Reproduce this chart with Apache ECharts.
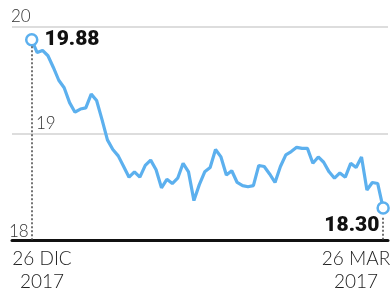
<!DOCTYPE html>
<html>
<head>
<meta charset="utf-8">
<script src="https://cdn.jsdelivr.net/npm/echarts@6/dist/echarts.min.js"></script>
<style>
  html, body { margin: 0; padding: 0; background: #fff; }
  #chart { width: 390px; height: 290px; }
</style>
</head>
<body>
<div id="chart"></div>
<script>
// daily values, 26 Dic -> 26 Mar
const values = [
  19.88, 19.76, 19.78, 19.73, 19.62, 19.50, 19.43, 19.29, 19.20, 19.23,
  19.24, 19.37, 19.31, 19.13, 18.94, 18.85, 18.79, 18.69, 18.59, 18.64,
  18.59, 18.70, 18.75, 18.66, 18.49, 18.57, 18.53, 18.58, 18.72, 18.64,
  18.37, 18.52, 18.64, 18.68, 18.85, 18.78, 18.61, 18.65, 18.54, 18.51,
  18.50, 18.51, 18.70, 18.69, 18.62, 18.54, 18.69, 18.80, 18.83, 18.87,
  18.86, 18.86, 18.72, 18.78, 18.73, 18.64, 18.58, 18.63, 18.59, 18.72,
  18.68, 18.78, 18.47, 18.54, 18.53, 18.30
];
const yTicks = [18, 19, 20];
const startLabel = ['26 DIC', '2017'];
const endLabel = ['26 MAR', '2017'];

const last = values.length - 1;
const blue = '#5cb0ee';
const labelFont = { fontFamily: 'Lato', fontWeight: 300, fontSize: 17, color: '#333' };

const chart = echarts.init(document.getElementById('chart'));

const seriesData = values.map((v, i) => {
  const item = { value: [i, v], symbol: 'none' };
  if (i === 0 || i === last) {
    item.symbol = 'circle';
    item.label = {
      show: true,
      formatter: v.toFixed(2),
      color: '#111',
      fontFamily: 'Roboto',
      fontWeight: 900,
      fontSize: 21
    };
    if (i === 0) {
      item.label.position = 'right';
      item.label.distance = 6;
    } else {
      item.label.position = 'left';
      item.label.offset = [8, 18];
    }
  }
  return item;
});

const option = {
  animation: false,
  grid: { left: 12, right: 2, top: 27, bottom: 50 },
  xAxis: {
    type: 'value',
    min: -3.65,
    max: last + 0.9,
    axisLine: { onZero: false, lineStyle: { color: '#111', width: 3 } },
    axisTick: { show: false },
    axisLabel: { show: false },
    splitLine: { show: false }
  },
  yAxis: {
    type: 'value',
    min: yTicks[0],
    max: yTicks[yTicks.length - 1],
    interval: 1,
    axisLine: { show: false },
    axisTick: { show: false },
    splitLine: { lineStyle: { color: '#d2d2d2', width: 1.5 } },
    axisLabel: {
      inside: true,
      margin: 0,
      verticalAlign: 'bottom',
      formatter: v => (v === 19 ? '{b|' + v + '}' : v === 18 ? '{c|' + v + '}' : '{a|' + v + '}'),
      rich: {
        a: Object.assign({ padding: [0, 0, 2, -1] }, labelFont),
        b: Object.assign({ padding: [0, 0, 1, 24] }, labelFont),
        c: Object.assign({ padding: [0, 0, 0, -3] }, labelFont)
      }
    }
  },
  series: [{
    type: 'line',
    data: seriesData,
    symbolSize: 11,
    itemStyle: { color: '#fff', borderColor: blue, borderWidth: 2.5 },
    lineStyle: { color: blue, width: 3.2 },
    z: 3,
    markLine: {
      silent: true,
      symbol: 'none',
      label: { show: false },
      lineStyle: { color: '#444', type: [2, 2], width: 1.5 },
      data: [
        [{ coord: [0, values[0] - 0.06] }, { coord: [0, yTicks[0]] }],
        [{ coord: [last, 18.21] }, { coord: [last, yTicks[0]] }]
      ]
    }
  }],
  graphic: [
    {
      type: 'text', x: 42, y: 247,
      style: {
        text: startLabel.join('\n'), fontFamily: 'Lato', fontWeight: 300,
        fontSize: 19, lineHeight: 23, fill: '#222', align: 'center'
      }
    },
    {
      type: 'text', x: 356, y: 247,
      style: {
        text: endLabel.join('\n'), fontFamily: 'Lato', fontWeight: 300,
        fontSize: 19, lineHeight: 23, fill: '#222', align: 'center'
      }
    }
  ]
};

chart.setOption(option);
</script>
</body>
</html>
